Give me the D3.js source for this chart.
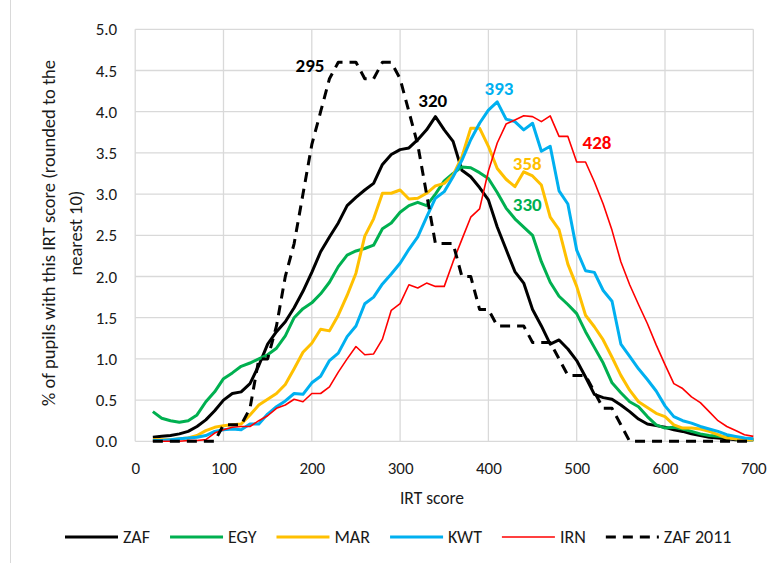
<!DOCTYPE html>
<html>
<head>
<meta charset="utf-8">
<script src="https://cdn.jsdelivr.net/npm/d3@7"></script>
<style>
    body { margin: 0; background: #fff; }
    text { font-family: Carlito, Calibri, Lato, sans-serif; fill: #1a1a1a; }
</style>
</head>
<body>
<svg id="chart" width="778" height="563"></svg>
<script>
// IRT score buckets (rounded to nearest 10)
const scores = d3.range(20, 701, 10);

const zaf = [0.05, 0.06, 0.07, 0.09, 0.12, 0.18, 0.26, 0.37, 0.50, 0.58,
    0.60, 0.70, 0.92, 1.18, 1.33, 1.45, 1.62, 1.82, 2.05, 2.30,
    2.48, 2.65, 2.86, 2.96, 3.05, 3.13, 3.36, 3.48, 3.54, 3.56,
    3.66, 3.78, 3.94, 3.78, 3.64, 3.29, 3.21, 3.08, 2.93, 2.60,
    2.33, 2.06, 1.92, 1.60, 1.40, 1.18, 1.23, 1.12, 0.98, 0.78,
    0.57, 0.53, 0.51, 0.44, 0.36, 0.27, 0.21, 0.19, 0.17, 0.14,
    0.12, 0.09, 0.07, 0.05, 0.04, 0.03, 0.02, 0.02, 0.02];

const egy = [0.36, 0.28, 0.25, 0.23, 0.25, 0.32, 0.48, 0.60, 0.76, 0.83,
    0.91, 0.95, 1.00, 1.05, 1.13, 1.28, 1.50, 1.61, 1.68, 1.79,
    1.93, 2.12, 2.26, 2.31, 2.34, 2.38, 2.58, 2.65, 2.78, 2.86,
    2.90, 2.86, 3.00, 3.16, 3.25, 3.33, 3.32, 3.26, 3.19, 3.02,
    2.83, 2.70, 2.60, 2.50, 2.18, 1.93, 1.76, 1.66, 1.55, 1.33,
    1.14, 0.95, 0.71, 0.59, 0.48, 0.42, 0.30, 0.20, 0.16, 0.17,
    0.15, 0.12, 0.09, 0.07, 0.06, 0.05, 0.03, 0.02, 0.02];

const mar = [0.02, 0.02, 0.02, 0.03, 0.04, 0.07, 0.13, 0.17, 0.19, 0.20,
    0.21, 0.32, 0.44, 0.51, 0.58, 0.69, 0.88, 1.08, 1.19, 1.36,
    1.34, 1.53, 1.77, 2.04, 2.49, 2.70, 3.01, 3.01, 3.05, 2.94,
    2.95, 3.01, 3.10, 3.13, 3.23, 3.45, 3.80, 3.80, 3.58, 3.31,
    3.18, 3.09, 3.27, 3.22, 3.11, 2.72, 2.57, 2.15, 1.88, 1.53,
    1.39, 1.23, 1.02, 0.80, 0.62, 0.48, 0.41, 0.34, 0.30, 0.20,
    0.16, 0.16, 0.15, 0.12, 0.08, 0.04, 0.03, 0.02, 0.02];

const kwt = [0.01, 0.01, 0.02, 0.03, 0.04, 0.05, 0.07, 0.12, 0.14, 0.15,
    0.14, 0.21, 0.21, 0.33, 0.42, 0.49, 0.58, 0.57, 0.71, 0.79,
    0.98, 1.07, 1.27, 1.40, 1.67, 1.75, 1.91, 2.03, 2.16, 2.33,
    2.48, 2.72, 2.95, 3.03, 3.21, 3.41, 3.66, 3.86, 4.02, 4.12,
    3.91, 3.88, 3.78, 3.86, 3.52, 3.58, 3.04, 2.88, 2.32, 2.07,
    2.05, 1.83, 1.70, 1.18, 1.03, 0.88, 0.75, 0.61, 0.43, 0.30,
    0.25, 0.22, 0.18, 0.15, 0.12, 0.08, 0.06, 0.04, 0.03];

const irn = [0.00, 0.00, 0.00, 0.00, 0.01, 0.01, 0.02, 0.10, 0.14, 0.17,
    0.18, 0.18, 0.25, 0.31, 0.40, 0.44, 0.51, 0.48, 0.58, 0.58,
    0.66, 0.84, 1.00, 1.15, 1.05, 1.06, 1.24, 1.59, 1.67, 1.90,
    1.86, 1.92, 1.88, 1.88, 2.18, 2.45, 2.72, 2.82, 3.28, 3.62,
    3.85, 3.90, 3.95, 3.94, 3.88, 3.95, 3.70, 3.70, 3.39, 3.39,
    3.15, 2.88, 2.56, 2.18, 1.90, 1.66, 1.43, 1.17, 0.93, 0.70,
    0.64, 0.54, 0.47, 0.36, 0.25, 0.18, 0.13, 0.08, 0.06];

const zaf2011 = [0, 0, 0, 0, 0, 0, 0, 0, 0.2, 0.2,
    0.2, 0.4, 1.0, 1.0, 1.4, 2.0, 2.4, 3.0, 3.6, 4.0,
    4.4, 4.6, 4.6, 4.6, 4.4, 4.4, 4.6, 4.6, 4.4, 4.0,
    3.6, 3.0, 2.4, 2.4, 2.4, 2.0, 2.0, 1.6, 1.6, 1.4,
    1.4, 1.4, 1.4, 1.2, 1.2, 1.2, 1.0, 0.8, 0.8, 0.8,
    0.6, 0.4, 0.4, 0.2, 0, 0, 0, 0, 0, 0,
    0, 0, 0, 0, 0, 0, 0, 0, 0];

const seriesNames = ["ZAF", "EGY", "MAR", "KWT", "IRN", "ZAF 2011"];
const seriesValues = [zaf, egy, mar, kwt, irn, zaf2011];

// mean score callouts, placed in data units
const calloutText = ["295", "320", "393", "358", "330", "428"];
const calloutScore = [198, 337, 412, 444, 444, 523];
const calloutPct = [4.56, 4.13, 4.28, 3.37, 2.87, 3.63];
const calloutSeries = [5, 0, 3, 2, 1, 4];

const yTicks = [0, 0.5, 1, 1.5, 2, 2.5, 3, 3.5, 4, 4.5, 5];
const xTicks = [0, 100, 200, 300, 400, 500, 600, 700];

const styles = [
    { color: "#000000", width: 3, dash: null },
    { color: "#00b050", width: 3, dash: null },
    { color: "#ffc000", width: 3, dash: null },
    { color: "#00b0f0", width: 3, dash: null },
    { color: "#ff0000", width: 1.6, dash: null },
    { color: "#000000", width: 3, dash: "10,7" }
];

const svg = d3.select("#chart");

const x = d3.scaleLinear().domain([0, 700]).range([135.2, 753.3]);
const y = d3.scaleLinear().domain([0, 5]).range([441.3, 29.3]);

// outer chart border (left edge visible)
svg.append("line")
    .attr("x1", 10.5).attr("x2", 10.5)
    .attr("y1", 0).attr("y2", 563)
    .attr("stroke", "#d9d9d9")
    .attr("stroke-width", 1);

// gridlines
const grid = svg.append("g").attr("stroke", "#d9d9d9").attr("stroke-width", 1.3);
grid.selectAll(".h")
    .data(yTicks)
    .enter()
    .append("line")
    .attr("x1", x(0)).attr("x2", x(700))
    .attr("y1", (d) => y(d)).attr("y2", (d) => y(d));
grid.selectAll(".v")
    .data(xTicks)
    .enter()
    .append("line")
    .attr("x1", (d) => x(d)).attr("x2", (d) => x(d))
    .attr("y1", y(0)).attr("y2", y(5));

// axes (labels only)
const yAxis = svg.append("g")
    .attr("transform", `translate(${x(0)},0)`)
    .call(d3.axisLeft(y).tickValues(yTicks).tickFormat(d3.format(".1f")).tickSize(0).tickPadding(18));
const xAxis = svg.append("g")
    .attr("transform", `translate(0,${y(0)})`)
    .call(d3.axisBottom(x).tickValues(xTicks).tickFormat(d3.format("d")).tickSize(0));
svg.selectAll(".domain").remove();
yAxis.selectAll("text")
    .attr("dy", null)
    .attr("dominant-baseline", "central")
    .style("font-size", "17px");
xAxis.selectAll("text")
    .attr("y", 27)
    .attr("dy", null)
    .attr("dominant-baseline", "central")
    .style("font-size", "17px");

// series lines
const line = d3.line()
    .x((d, i) => x(scores[i]))
    .y((d) => y(d));

svg.append("g")
    .selectAll("path")
    .data(seriesValues)
    .enter()
    .append("path")
    .attr("d", (d) => line(d))
    .attr("fill", "none")
    .attr("stroke", (d, i) => styles[i].color)
    .attr("stroke-width", (d, i) => styles[i].width)
    .attr("stroke-dasharray", (d, i) => styles[i].dash)
    .attr("stroke-linejoin", "round");

// callouts
svg.append("g")
    .selectAll("text")
    .data(calloutText)
    .enter()
    .append("text")
    .attr("x", (d, i) => x(calloutScore[i]))
    .attr("y", (d, i) => y(calloutPct[i]))
    .attr("text-anchor", "middle")
    .attr("dominant-baseline", "central")
    .style("font-size", "19px")
    .style("font-weight", "bold")
    .style("fill", (d, i) => styles[calloutSeries[i]].color)
    .text((d) => d);

// axis titles
svg.append("text")
    .attr("x", 432)
    .attr("y", 498)
    .attr("text-anchor", "middle")
    .attr("dominant-baseline", "central")
    .style("font-size", "17.5px")
    .text("IRT score");

const yTitle = svg.append("g").attr("transform", "translate(0,233) rotate(-90)");
yTitle.append("text")
    .attr("x", 0).attr("y", 48)
    .attr("text-anchor", "middle")
    .attr("dominant-baseline", "central")
    .style("font-size", "18.5px")
    .text("% of pupils with this IRT score (rounded to the");
yTitle.append("text")
    .attr("x", 0).attr("y", 75)
    .attr("text-anchor", "middle")
    .attr("dominant-baseline", "central")
    .style("font-size", "18.5px")
    .text("nearest 10)");

// legend
const legend = svg.append("g").attr("transform", "translate(65,537)");
let cursor = 0;
seriesNames.forEach((name, i) => {
    const item = legend.append("g").attr("transform", `translate(${cursor},0)`);
    item.append("line")
        .attr("x1", 0).attr("x2", 53)
        .attr("y1", 0).attr("y2", 0)
        .attr("stroke", styles[i].color)
        .attr("stroke-width", styles[i].width)
        .attr("stroke-dasharray", styles[i].dash);
    const label = item.append("text")
        .attr("x", 58)
        .attr("y", 0)
        .attr("dominant-baseline", "central")
        .style("font-size", "18px")
        .text(name);
    cursor += 58 + label.node().getComputedTextLength() + 20;
});
</script>
</body>
</html>
